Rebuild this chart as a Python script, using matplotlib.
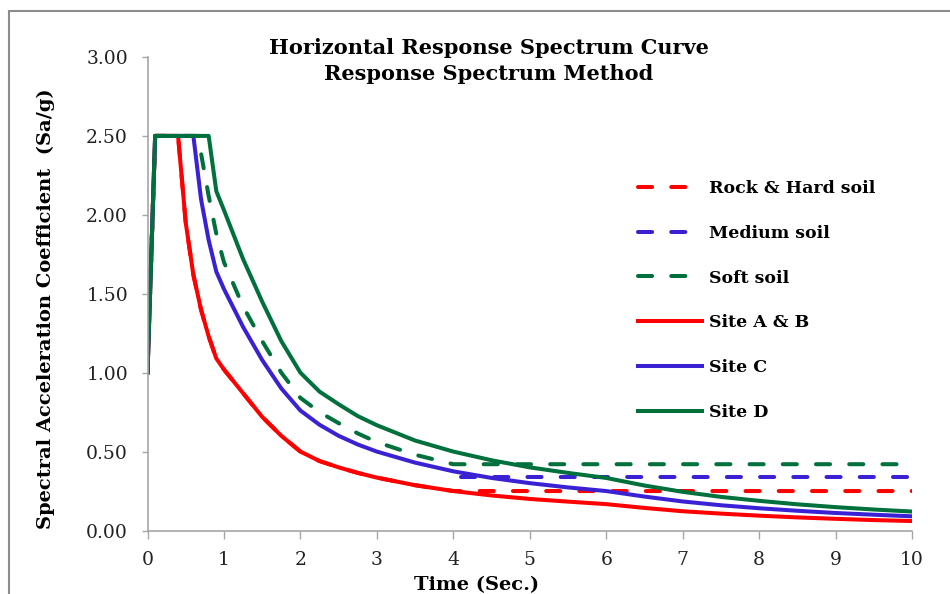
import matplotlib
matplotlib.use('Agg')
import matplotlib.pyplot as plt
from matplotlib.patches import Rectangle

plt.rcParams['font.family'] = 'DejaVu Serif'

# period T (sec) and Sa/g values
t_site = [0, 0.1, 0.2, 0.3, 0.4, 0.5, 0.6, 0.7, 0.8, 0.9, 1.0, 1.25, 1.5, 1.75, 2.0, 2.25,
          2.5, 2.75, 3.0, 3.5, 4.0, 4.5, 5.0, 5.5, 6.0, 6.5, 7.0, 7.5, 8.0, 8.5, 9.0,
          9.5, 10.0]
site_ab = [1.00, 2.50, 2.50, 2.50, 2.50, 1.95, 1.62, 1.40, 1.23, 1.09, 1.02, 0.87, 0.72,
           0.60, 0.50, 0.44, 0.40, 0.365, 0.335, 0.287, 0.25, 0.222, 0.20, 0.183, 0.167,
           0.143, 0.122, 0.107, 0.094, 0.083, 0.074, 0.066, 0.060]
site_c = [1.00, 2.50, 2.50, 2.50, 2.50, 2.50, 2.50, 2.10, 1.84, 1.64, 1.53, 1.29, 1.08,
          0.90, 0.76, 0.67, 0.60, 0.545, 0.50, 0.43, 0.375, 0.333, 0.30, 0.273, 0.25,
          0.215, 0.184, 0.16, 0.141, 0.125, 0.111, 0.10, 0.09]
site_d = [1.00, 2.50, 2.50, 2.50, 2.50, 2.50, 2.50, 2.50, 2.50, 2.15, 2.03, 1.72, 1.45,
          1.20, 1.00, 0.88, 0.80, 0.725, 0.667, 0.57, 0.50, 0.445, 0.40, 0.365, 0.333,
          0.285, 0.245, 0.213, 0.188, 0.166, 0.148, 0.133, 0.12]

t_rock = t_site
rock = site_ab[:21] + [0.25] * 12
t_medium = [4.1, 5.0, 6.0, 7.0, 8.0, 9.0, 10.0]
medium = [0.34, 0.34, 0.34, 0.34, 0.34, 0.34, 0.34]
t_soft = [0, 0.1, 0.2, 0.3, 0.4, 0.5, 0.6, 0.67, 0.7, 0.8, 0.9, 1.0, 1.25, 1.5, 1.75,
          2.0, 2.25, 2.5, 2.75, 3.0, 3.5, 4.0, 5.0, 6.0, 7.0, 8.0, 9.0, 10.0]
soft = [1.00, 2.50, 2.50, 2.50, 2.50, 2.50, 2.50, 2.50, 2.39, 2.12, 1.88, 1.70, 1.42,
        1.20, 1.00, 0.84, 0.75, 0.68, 0.615, 0.56, 0.48, 0.42, 0.42, 0.42, 0.42, 0.42,
        0.42, 0.42]

RED = '#FF0000'
BLUE = '#3A22D4'
GREEN = '#00703C'

fig = plt.figure(figsize=(9.5, 5.94), dpi=100)
ax = fig.add_axes([147.5/950, 1-530.5/594, (912-147.5)/950, (530.5-57)/594])

lw = 2.9
dash = (3.5, 4.75)
ax.plot(t_rock, rock, color=RED, lw=lw, dashes=dash, dash_capstyle='round', label='Rock & Hard soil')
ax.plot(t_medium, medium, color=BLUE, lw=lw, dashes=dash, dash_capstyle='round', label='Medium soil')
ax.plot(t_soft, soft, color=GREEN, lw=lw, dashes=dash, dash_capstyle='round', label='Soft soil')
ax.plot(t_site, site_ab, color=RED, lw=lw, label='Site A & B')
ax.plot(t_site, site_c, color=BLUE, lw=lw, label='Site C')
ax.plot(t_site, site_d, color=GREEN, lw=lw, label='Site D')

ax.set_xlim(0, 10)
ax.set_ylim(0, 3)
ax.set_xticks(range(0, 11))
ax.set_yticks([0, 0.5, 1, 1.5, 2, 2.5, 3])
ax.set_yticklabels(['%.2f' % v for v in [0, 0.5, 1, 1.5, 2, 2.5, 3]])
for s in ['top', 'right']:
    ax.spines[s].set_visible(False)
for s in ['left', 'bottom']:
    ax.spines[s].set_color('#A6A6A6')
    ax.spines[s].set_linewidth(1.2)
ax.tick_params(axis='y', length=4, width=1, color='#A6A6A6', pad=10, labelsize=13.5, labelcolor='#222222')
ax.tick_params(axis='x', length=6, width=1, color='#A6A6A6', pad=9, labelsize=13.5, labelcolor='#222222')

leg = ax.legend(loc='upper left', bbox_to_anchor=(638/950, 1-180/594), bbox_transform=fig.transFigure,
                frameon=False, handlelength=3.7, handletextpad=0.4, labelspacing=1.6,
                borderpad=0, borderaxespad=0, prop={'weight': 'bold', 'size': 12.5})

fig.text(489/950, 1-61/594, 'Horizontal Response Spectrum Curve\nResponse Spectrum Method',
         ha='center', va='center', fontsize=15, fontweight='bold', linespacing=1.35)
fig.text(46/950, 1-309/594, 'Spectral Acceleration Coefficient  (Sa/g)', rotation=90,
         ha='center', va='center', fontsize=14, fontweight='bold')
fig.text(477/950, 1-576/594, 'Time (Sec.)', ha='center', va='top', fontsize=14, fontweight='bold')

fig.add_artist(Rectangle((8.5/950, -0.1), 1.2, (594-11)/594+0.1, transform=fig.transFigure,
                         fill=False, ec='#8C8C8C', lw=1.5))

fig.savefig('out.png', dpi=100)
